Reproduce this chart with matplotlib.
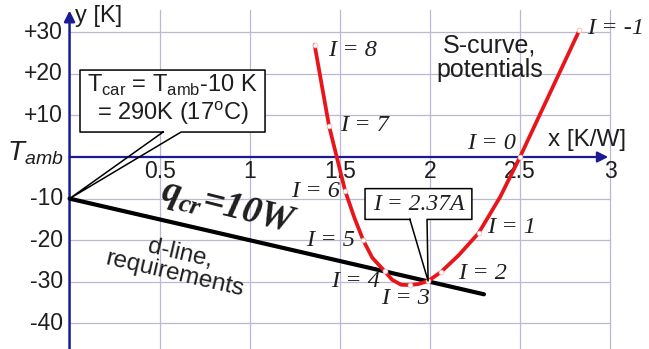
import matplotlib
matplotlib.use("Agg")
import matplotlib.pyplot as plt
from matplotlib.patches import Rectangle

# ---- data ---------------------------------------------------------------
# S-curve operating points (current I in A) : thermal resistance x, temperature y
point_labels = ["I = 8", "I = 7", "I = 6", "I = 5", "I = 4", "I = 3",
                "I = 2", "I = 1", "I = 0", "I = -1"]
point_x = [1.36, 1.44, 1.53, 1.63, 1.75, 1.89, 2.06, 2.27, 2.50, 2.83]
point_y = [27.0, 7.5, -8.2, -20.0, -27.5, -30.8, -27.7, -18.3, 0.0, 30.5]

# traced S-curve path (includes the marked points)
curve_x = [1.36, 1.44, 1.53, 1.58, 1.63, 1.68, 1.75, 1.79, 1.84, 1.89, 1.94,
           1.99, 2.06, 2.16, 2.27, 2.39, 2.50, 2.83]
curve_y = [27.0, 7.5, -8.2, -14.5, -20.0, -24.2, -27.5, -29.5, -30.7, -30.8,
           -30.5, -29.8, -27.7, -23.6, -18.3, -9.6, 0.0, 30.5]

# tangent point (critical current)
crit_x, crit_y = 1.99, -29.8
crit_label = "I = 2.37A"

# d-line: starts at T_car - T_amb = -10 K, slope -q_cr = -10 W
d_start = -10.0
q_cr = 10.0
d_x_end = 2.30

# axes ticks
xtick_vals = [0.5, 1, 1.5, 2, 2.5, 3]
xtick_text = ["0.5", "1", "1.5", "2", "2.5", "3"]
ytick_vals = [30, 20, 10, -10, -20, -30, -40]
ytick_text = ["+30", "+20", "+10", "-10", "-20", "-30", "-40"]

# ---- styles -------------------------------------------------------------
NAVY = "#1b1b96"
GRID = "#b9b9d6"
RED = "#e8151b"
INK = "#1e1e1e"
SANS = "Liberation Sans"
SERIF = "Liberation Serif"

fig = plt.figure(figsize=(6.49, 3.49), dpi=100)
ax = fig.add_axes([0, 0, 1, 1])
ax.set_xlim(-0.386, 3.216)
ax.set_ylim(-46.15, 37.74)
ax.axis("off")

# grid
for gx in xtick_vals:
    ax.plot([gx, gx], [35.3, -46.15], color=GRID, lw=0.9, zorder=1)
for gy in ytick_vals:
    ax.plot([0, 3], [gy, gy], color=GRID, lw=0.9, zorder=1)

# axes with arrows
ax.annotate("", xy=(0, 35.2), xytext=(0, -46.15),
            arrowprops=dict(arrowstyle="-|>", color=NAVY, lw=1.8,
                            mutation_scale=16, shrinkA=0, shrinkB=0), zorder=3)
ax.annotate("", xy=(2.99, 0), xytext=(0, 0),
            arrowprops=dict(arrowstyle="-|>", color=NAVY, lw=1.6,
                            mutation_scale=16, shrinkA=0, shrinkB=0), zorder=3)

# tick labels
for v, t in zip(xtick_vals, xtick_text):
    ax.text(v, -0.6, t, ha="center", va="top", family=SANS, fontsize=16.5,
            color=INK, zorder=4)
for v, t in zip(ytick_vals, ytick_text):
    ax.text(-0.036, v, t, ha="right", va="center", family=SANS, fontsize=16.5,
            color=INK, zorder=4)
ax.text(-0.345, 1.0, r"T$_\mathregular{amb}$", ha="left", va="center",
        family=SANS, style="italic", fontsize=20, color=INK)
ax.text(0.03, 34.0, "y [K]", ha="left", va="center", family=SANS,
        fontsize=17, color=INK)
ax.text(2.655, 4.2, "x [K/W]", ha="left", va="center", family=SANS,
        fontsize=17.5, color=INK)

# d-line
ax.plot([0, d_x_end], [d_start, d_start - q_cr * d_x_end], color="black",
        lw=3.0, solid_capstyle="round", zorder=5)

# S-curve
ax.plot(curve_x, curve_y, color=RED, lw=2.7, solid_joinstyle="round",
        solid_capstyle="round", zorder=6)
ax.plot(point_x + [crit_x], point_y + [crit_y], "o", ms=3.5, mfc="white",
        mec="#f3b0b0", mew=0.5, zorder=7, ls="none")

# operating point labels
lab_pos = {
    "I = 8": (1.435, 25.7, "left"),
    "I = 7": (1.50, 7.5, "left"),
    "I = 6": (1.50, -8.2, "right"),
    "I = 5": (1.585, -20.0, "right"),
    "I = 4": (1.725, -30.0, "right"),
    "I = 3": (1.867, -34.0, "center"),
    "I = 2": (2.156, -28.1, "left"),
    "I = 1": (2.32, -17.0, "left"),
    "I = 0": (2.48, 3.3, "right"),
    "I = -1": (2.87, 31.0, "left"),
}
for lab in point_labels:
    lx, ly, ha = lab_pos[lab]
    ax.text(lx, ly, lab, ha=ha, va="center", family=SERIF, style="italic",
            fontsize=17.5, color=INK, zorder=8)

# callout for the critical current
bx0, bx1, by0, by1 = 1.640, 2.233, -15.0, -7.6
ax.add_patch(Rectangle((bx0, by0), bx1 - bx0, by1 - by0, facecolor="white",
                       edgecolor="none", zorder=8))
w1, w2 = 1.889, 1.984
ax.plot([w1, bx0, bx0, bx1, bx1, w2, crit_x, w1],
        [by0, by0, by1, by1, by0, by0, crit_y, by0],
        color="black", lw=1.1, zorder=9)
ax.text((bx0 + bx1) / 2, (by0 + by1) / 2, crit_label, ha="center",
        va="center", family=SERIF, style="italic", fontsize=17,
        color=INK, zorder=10)

# callout for the cargo temperature
cx0, cx1, cy0, cy1 = 0.058, 1.085, 6.0, 20.9
ax.add_patch(Rectangle((cx0, cy0), cx1 - cx0, cy1 - cy0, facecolor="white",
                       edgecolor="none", zorder=8))
v1, v2 = 0.519, 0.619
ax.plot([v1, cx0, cx0, cx1, cx1, v2, 0, v1],
        [cy0, cy0, cy1, cy1, cy0, cy0, d_start, cy0],
        color="black", lw=1.1, zorder=9)
ax.text((cx0 + cx1) / 2, (cy0 + cy1) / 2 + 0.3,
        "T$_\\mathregular{car}$ = T$_\\mathregular{amb}$-10 K\n"
        "= 290K (17$^\\mathregular{o}$C)",
        ha="center", va="center", family=SANS, fontsize=17,
        linespacing=1.05, color=INK, zorder=10)

# annotations
ax.text(2.333, 23.8, "S-curve,\npotentials", ha="center", va="center",
        family=SANS, fontsize=18, linespacing=1.05, color=INK, zorder=4)
ax.text(0.885, -12.3, "q$_\\mathregular{cr}$=10W", ha="center", va="center",
        family=SERIF, style="italic", weight="bold", fontsize=27,
        rotation=-14, rotation_mode="anchor", color=INK, zorder=6)
ax.text(0.60, -25.7, "d-line,\nrequirements", ha="center", va="center",
        family=SANS, fontsize=17.5, linespacing=1.0, rotation=-13,
        rotation_mode="anchor", color=INK, zorder=4)

fig.savefig("out.png", dpi=100)
